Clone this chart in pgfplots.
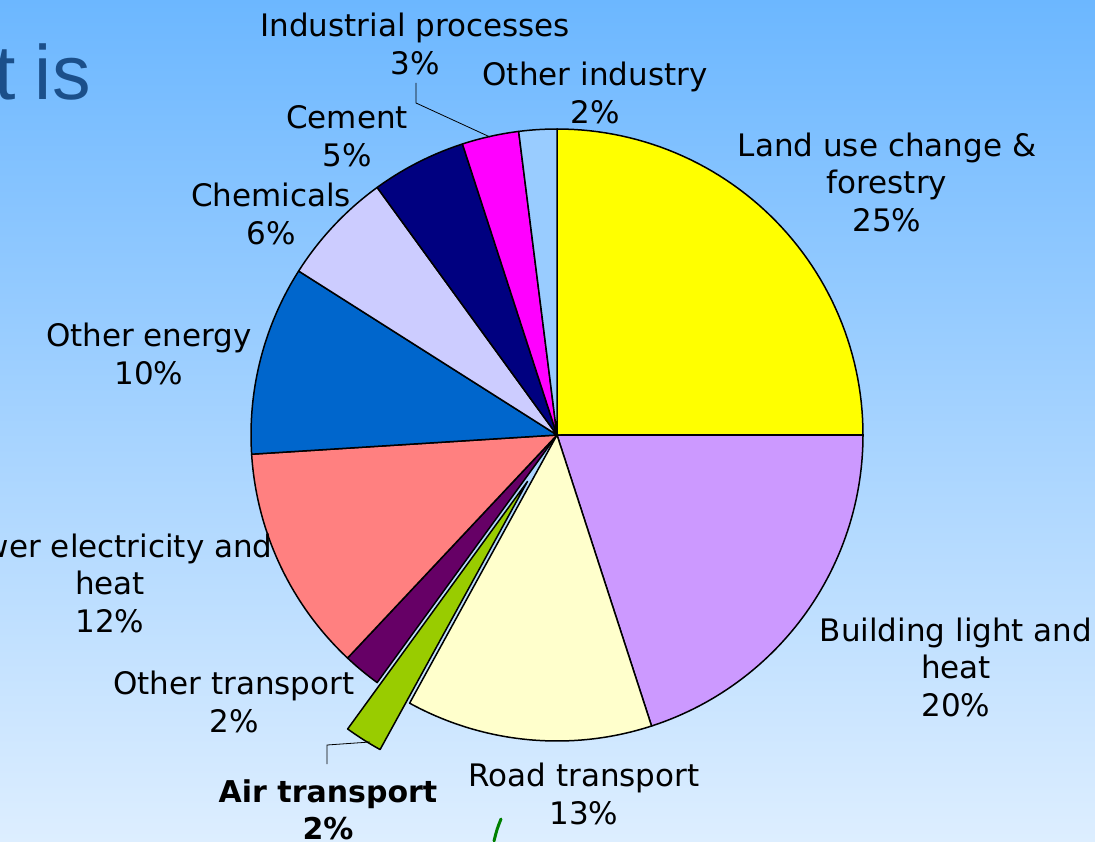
\documentclass[border=0pt]{standalone}
\usepackage{pgfplots}
\pgfplotsset{compat=1.18}
\usepackage{fontspec}
\setmainfont{DejaVu Sans}
\newfontfamily\titlefont{Liberation Sans}
\definecolor{cLand}{HTML}{FFFF00}
\definecolor{cBuild}{HTML}{CC99FF}
\definecolor{cRoad}{HTML}{FFFFCC}
\definecolor{cAir}{HTML}{99CC00}
\definecolor{cOthT}{HTML}{660066}
\definecolor{cPower}{HTML}{FF8080}
\definecolor{cOthE}{HTML}{0066CC}
\definecolor{cChem}{HTML}{CCCCFF}
\definecolor{cCem}{HTML}{000080}
\definecolor{cInd}{HTML}{FF00FF}
\definecolor{cOthI}{HTML}{99CCFF}
\definecolor{bgTop}{HTML}{6CB7FF}
\definecolor{bgMid}{HTML}{B2DAFF}
\definecolor{bgBot}{HTML}{DDEEFF}
\definecolor{titleblue}{HTML}{1B4F8A}
\tikzset{lbl/.style={font=\fontsize{15.5}{18.75}\selectfont, align=center, inner sep=0pt}}
% #1 colour, #2 cumulative share before slice (%), #3 share (%), #4,#5 slice apex
\newcommand{\slice}[5]{%
  \addplot[draw=black, line width=0.75pt, line join=round, fill=#1,
    domain=0:1, samples=60, variable=\t]
    ({#4+306*cos(90-3.6*(#2+#3*\t))}, {#5+306*sin(90-3.6*(#2+#3*\t))})
    -- (axis cs:#4,#5) -- cycle;}
\begin{document}
\begin{tikzpicture}
\shade[top color=bgTop, middle color=bgMid, bottom color=bgBot]
  (0,0) rectangle (547.5pt,420.5pt);
\begin{axis}[at={(0,0)}, anchor=south west,
  scale only axis, width=547.5pt, height=420.5pt,
  xmin=0, xmax=1095, ymin=0, ymax=841, hide axis, clip=false]
% slices: cumulative start, share
\slice{cLand}{0}{25}{557}{406}
\slice{cBuild}{25}{20}{557}{406}
\slice{cRoad}{45}{13}{557}{406}
\slice{cOthT}{60}{2}{557}{406}
\slice{cPower}{62}{12}{557}{406}
\slice{cOthE}{74}{10}{557}{406}
\slice{cChem}{84}{6}{557}{406}
\slice{cCem}{90}{5}{557}{406}
\slice{cInd}{95}{3}{557}{406}
\slice{cOthI}{98}{2}{557}{406}
% exploded slice (Air transport)
\slice{cAir}{58}{2}{527.5}{359.6}
% leader lines
\draw[black, line width=0.4pt] (axis cs:416,758) -- (axis cs:416,738) -- (axis cs:490,704);
\draw[black, line width=0.4pt] (axis cs:327,77) -- (axis cs:327,96) -- (axis cs:370,99);
% labels
\node[lbl] at (axis cs:415,797) {Industrial processes\\3\%};
\node[lbl] at (axis cs:595,748) {Other industry\\2\%};
\node[lbl] at (axis cs:887,659) {Land use change \&\\forestry\\25\%};
\node[lbl] at (axis cs:347,705) {Cement\\5\%};
\node[lbl] at (axis cs:271,627) {Chemicals\\6\%};
\node[lbl] at (axis cs:149,487) {Other energy\\10\%};
\node[lbl] at (axis cs:110,258) {Power electricity and\\heat\\12\%};
\node[lbl] at (axis cs:234,139) {Other transport\\2\%};
\node[lbl, font=\fontsize{15}{18.75}\selectfont\bfseries] at (axis cs:328,31) {Air transport\\2\%};
\node[lbl] at (axis cs:584,47) {Road transport\\13\%};
\node[lbl] at (axis cs:956,174) {Building light and\\heat\\20\%};
% slide title fragment
\node[anchor=base east, inner sep=0pt, font=\titlefont\fontsize{38.5}{46}\selectfont, text=titleblue] at (axis cs:91,741) {is};
\node[anchor=base east, inner sep=0pt, font=\titlefont\fontsize{38.5}{46}\selectfont, text=titleblue] at (axis cs:16,741) {t};
% decorative stroke at bottom
\draw[color=green!50!black, line width=1.5pt, line cap=round] (axis cs:501,22) .. controls (axis cs:497,12) .. (axis cs:494,0);
\end{axis}
\pgfresetboundingbox
\path[use as bounding box] (0,0) rectangle (547.5pt,420.5pt);
\end{tikzpicture}
\end{document}
